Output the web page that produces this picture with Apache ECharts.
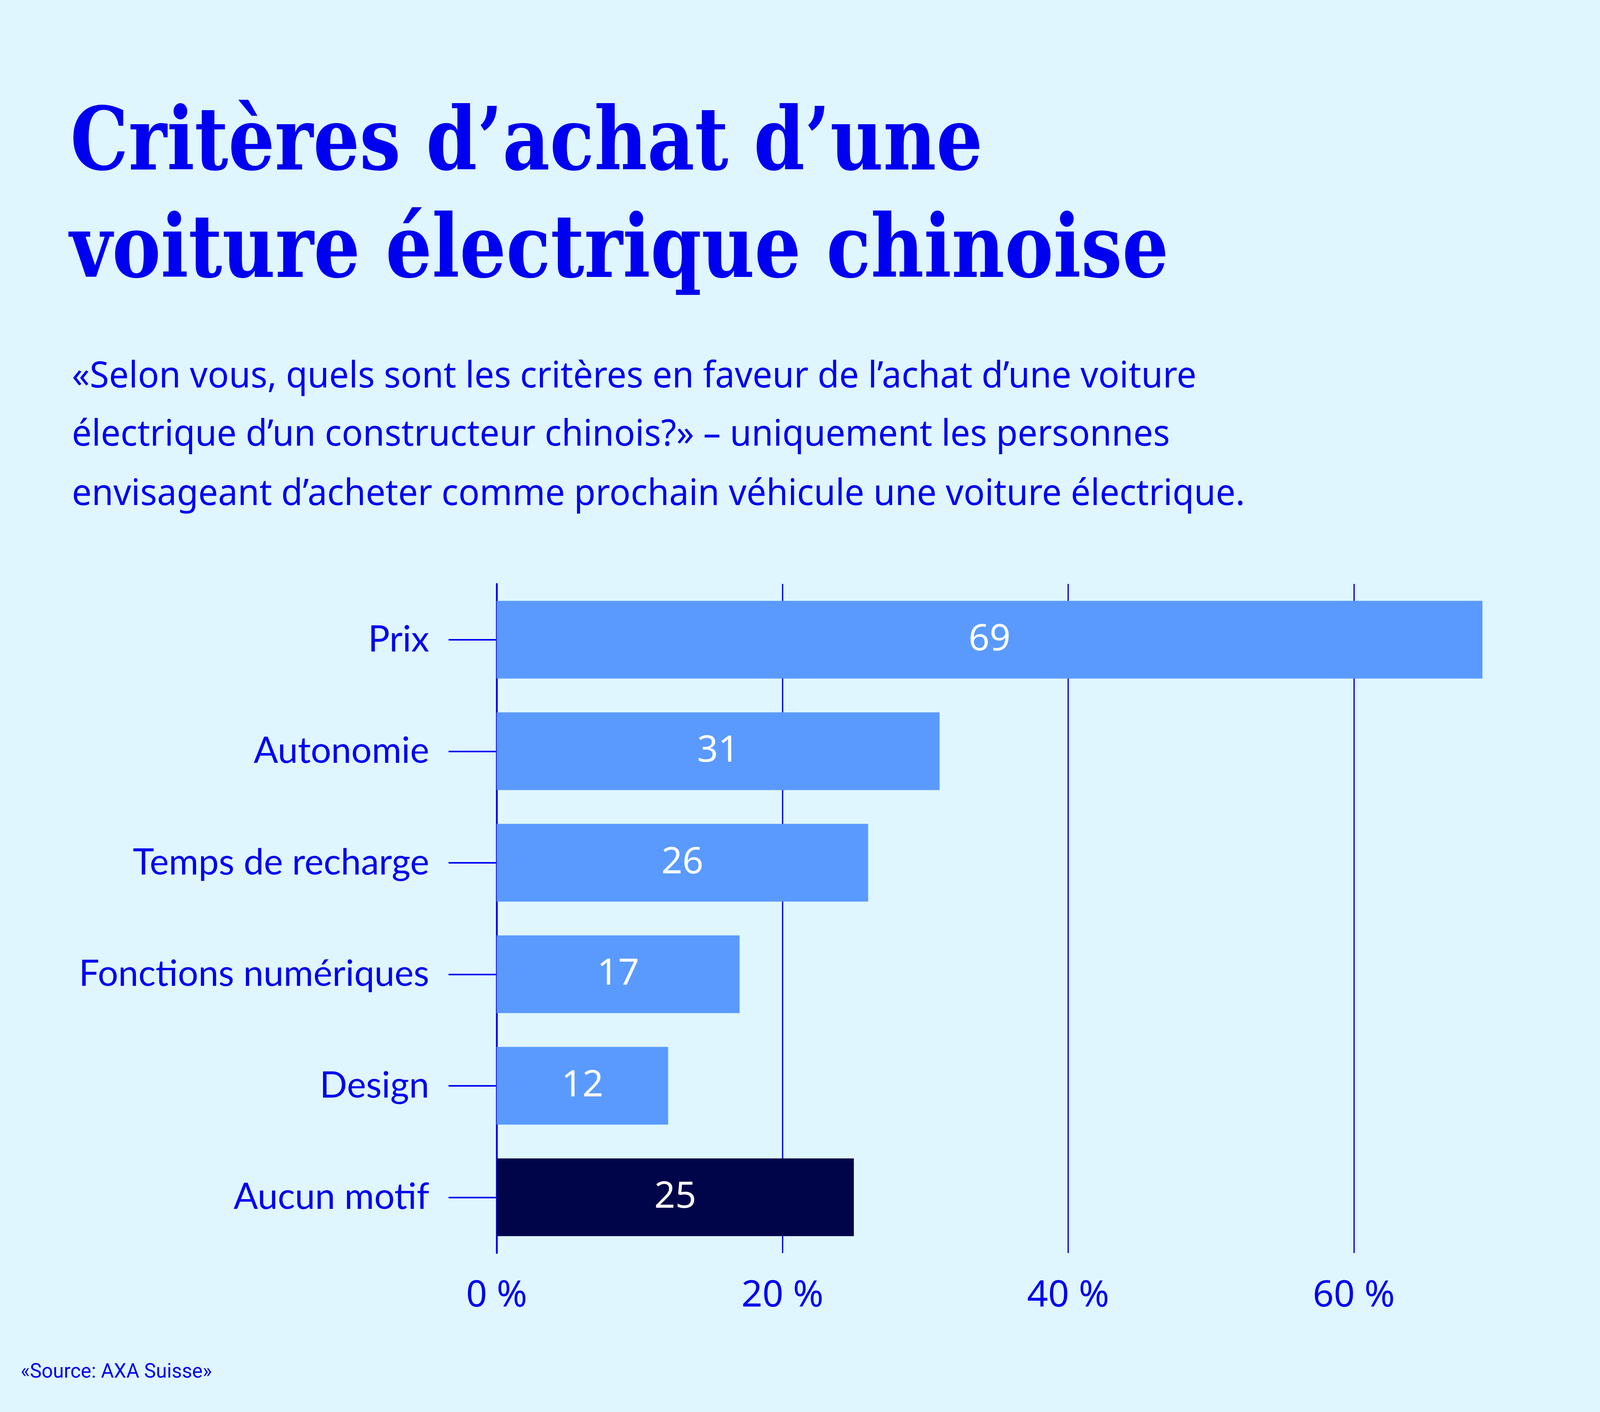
<!DOCTYPE html>
<html lang="fr">
<head>
<meta charset="utf-8">
<title>Critères d’achat d’une voiture électrique chinoise</title>
<script src="https://cdn.jsdelivr.net/npm/echarts@6.0.0/dist/echarts.min.js"></script>
<style>
  html, body { margin: 0; padding: 0; background: #dff6fe; overflow: hidden; }
  #chart { width: 100vw; height: 100vh; }
</style>
</head>
<body>
<div id="chart"></div>
<script>
// Data
const categories = ['Prix', 'Autonomie', 'Temps de recharge', 'Fonctions numériques', 'Design', 'Aucun motif'];
const shares = [69, 31, 26, 17, 12, 25];
const highlighted = ['Aucun motif'];
const xTicks = [0, 20, 40, 60];

const titleLines = ['Critères d’achat d’une', 'voiture électrique chinoise'];
const subtitleLines = [
  '«Selon vous, quels sont les critères en faveur de l’achat d’une voiture',
  'électrique d’un constructeur chinois?» – uniquement les personnes',
  'envisageant d’acheter comme prochain véhicule une voiture électrique.'
];
const sourceText = '«Source: AXA Suisse»';

const BG = '#dff6fe';
const BLUE = '#0000f0';
const BAR = '#5a9aff';
const BAR_DARK = '#00054a';

// layout is written for a 5051 x 3615 page and scaled to whatever the viewport really is
const el = document.getElementById('chart');
const sx = el.clientWidth / 5051;
const sy = el.clientHeight / 3615;
const s = Math.min(sx, sy);

const font = (weight, size, family) => `${weight} ${size * s}px ${family}`;
const TITLE_FONT = font('bold', 275, '"DejaVu Serif"');
const SUB_FONT = font('normal', 115, '"Noto Sans"');
const SOURCE_FONT = font('normal', 63, 'Roboto');

// horizontal squeeze so the installed fonts take the same width as the original ones
const measureCtx = document.createElement('canvas').getContext('2d');
function squeeze(text, f, targetWidth) {
  measureCtx.font = f;
  return (targetWidth * sx) / measureCtx.measureText(text).width;
}

const titleScale = squeeze(titleLines[1], TITLE_FONT, 3689 - 220);
const subScale = squeeze(subtitleLines[2], SUB_FONT, 3930 - 227);
const sourceScale = squeeze(sourceText, SOURCE_FONT, 604);

function textLine(text, x, y, f, scale) {
  return {
    type: 'text',
    x: x * sx,
    y: y * sy,
    scaleX: scale,
    silent: true,
    style: { text: text, font: f, fill: BLUE, align: 'left', verticalAlign: 'middle' }
  };
}

const graphics = [
  textLine(titleLines[0], 222, 376, TITLE_FONT, titleScale),
  textLine(titleLines[1], 220, 651, TITLE_FONT, titleScale),
  textLine(subtitleLines[0], 227, 965, SUB_FONT, subScale),
  textLine(subtitleLines[1], 227, 1114, SUB_FONT, subScale),
  textLine(subtitleLines[2], 227, 1266, SUB_FONT, subScale),
  textLine(sourceText, 65, 3514, SOURCE_FONT, sourceScale)
];

const chart = echarts.init(el, null, { renderer: 'canvas' });

chart.setOption({
  backgroundColor: BG,
  animation: false,
  graphic: graphics,
  grid: { left: 1568 * sx, right: 326 * sx, top: 1495 * sy, bottom: 407 * sy, containLabel: false },
  xAxis: {
    type: 'value',
    min: xTicks[0],
    max: 70,
    interval: xTicks[1] - xTicks[0],
    axisLine: { show: false },
    axisTick: { show: false },
    splitLine: { show: true, showMaxLine: false, lineStyle: { color: BLUE, width: 4 * s } },
    axisLabel: {
      showMaxLabel: false,
      formatter: '{value} %',
      color: BLUE,
      fontFamily: 'Noto Sans',
      fontSize: 116 * s,
      verticalAlign: 'middle',
      margin: 110 * sy
    }
  },
  yAxis: {
    type: 'category',
    data: categories,
    inverse: true,
    axisLine: { show: true, lineStyle: { color: BLUE, width: 5.5 * s } },
    axisTick: { show: true, alignWithLabel: true, length: 152 * sx, lineStyle: { color: BLUE, width: 5 * s } },
    axisLabel: {
      color: BLUE,
      fontFamily: 'Lato',
      fontSize: 114 * s,
      margin: 213 * sx
    },
    splitLine: { show: false }
  },
  series: [{
    type: 'bar',
    data: shares,
    barWidth: 199 * sy,
    itemStyle: {
      color: (p) => (highlighted.includes(p.name) ? BAR_DARK : BAR)
    },
    label: {
      show: true,
      position: 'inside',
      color: '#ffffff',
      fontFamily: 'Noto Sans',
      fontSize: 116 * s
    }
  }]
});
</script>
</body>
</html>
